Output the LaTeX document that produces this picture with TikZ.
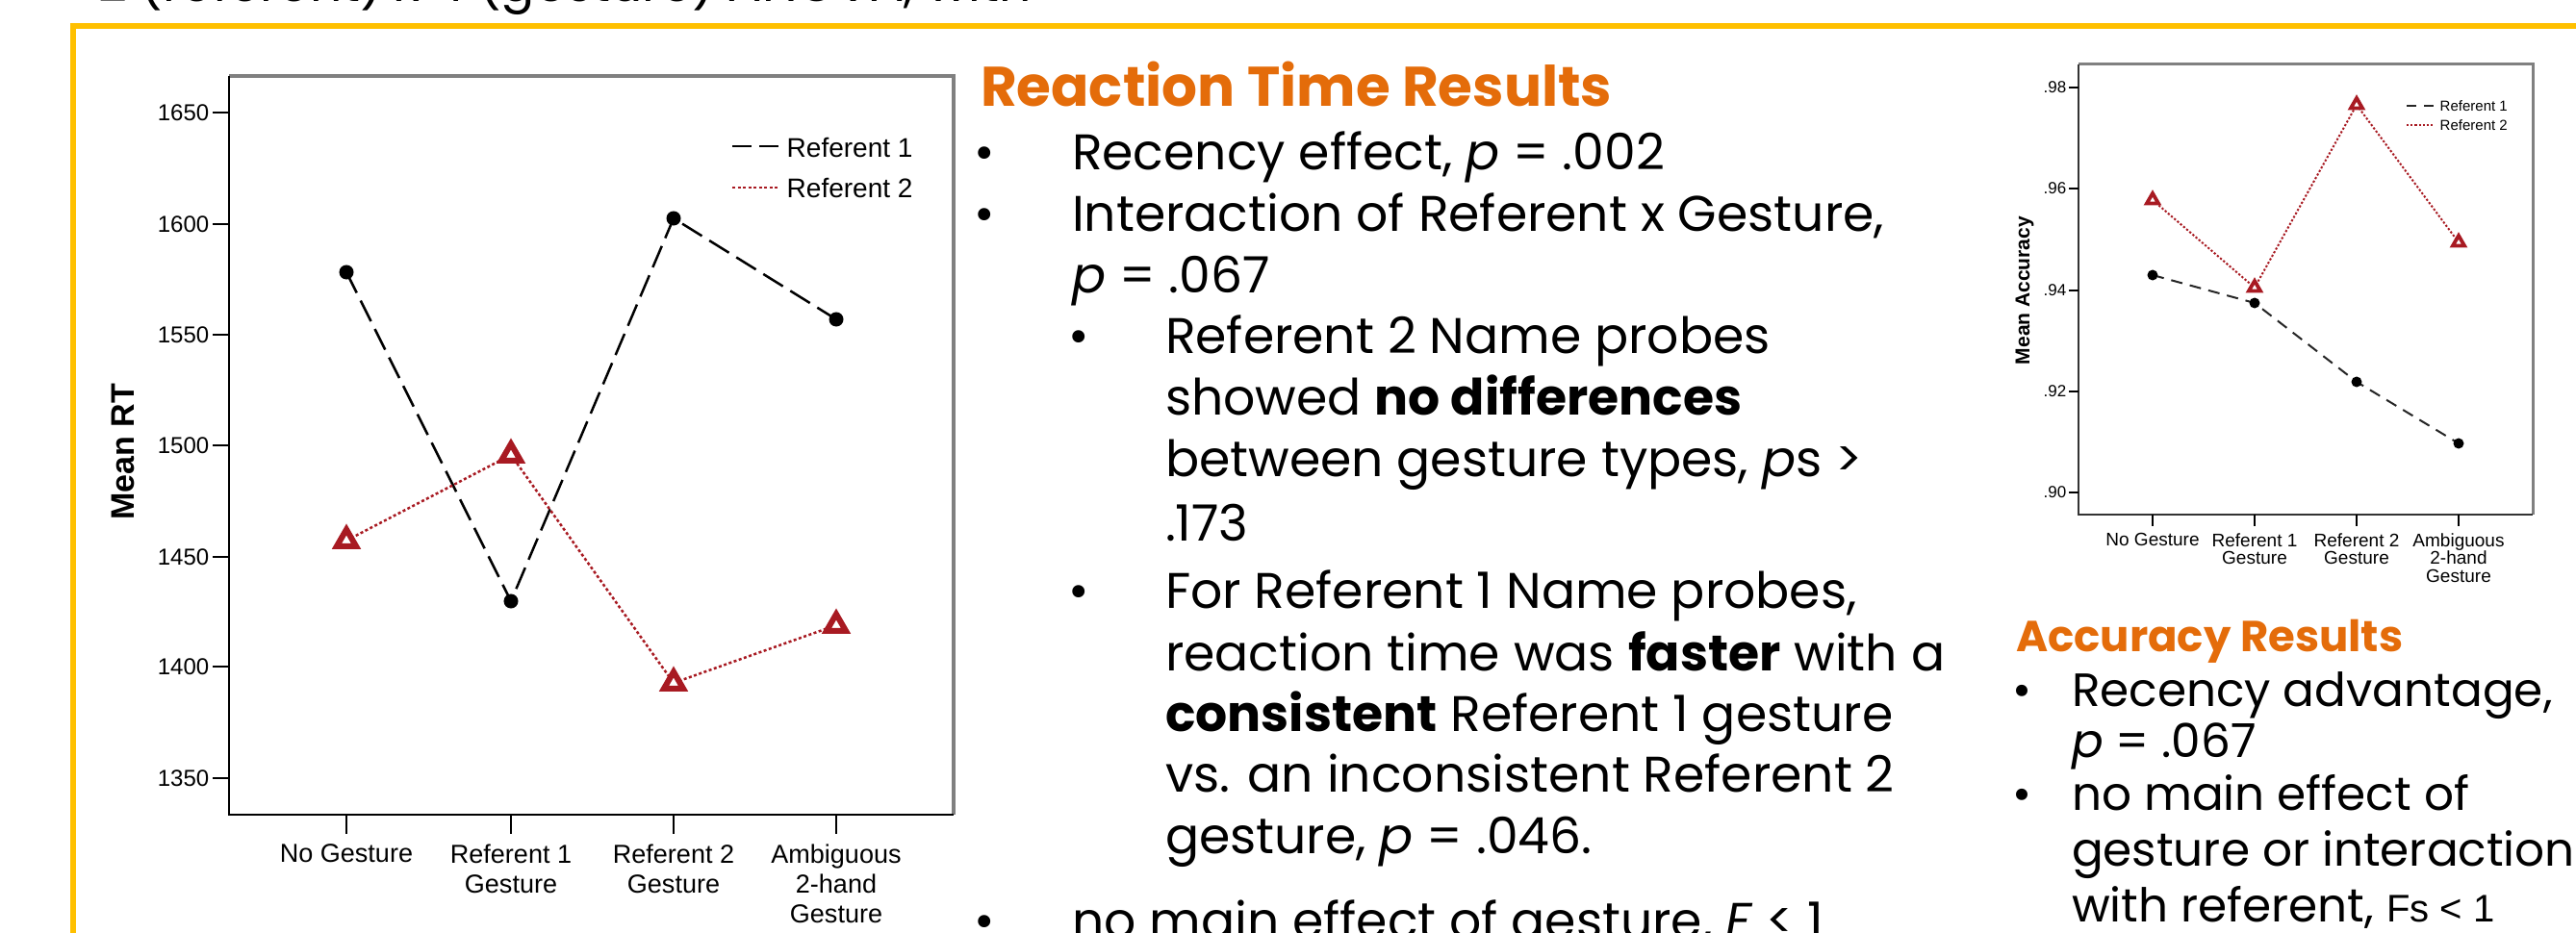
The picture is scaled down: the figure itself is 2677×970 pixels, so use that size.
\documentclass[tikz,border=0pt]{standalone}
\usepackage{fontspec}
\setmainfont{Poppins}
\newfontfamily\chartfont{Liberation Sans}
\usetikzlibrary{shapes.geometric}

\definecolor{frameyellow}{RGB}{255,192,0}
\definecolor{headorange}{RGB}{228,108,10}
\definecolor{serieRed}{RGB}{168,26,34}
\definecolor{axisgray}{RGB}{128,128,128}

% font size given in picture pixels (1px = 0.01cm): size, leading
\newcommand\pxsize[2]{\fontsize{\fpeval{#1*0.28453}pt}{\fpeval{#2*0.28453}pt}\selectfont}

\begin{document}
\begin{tikzpicture}[x=0.01cm,y=-0.01cm,
  txt/.style={anchor=base west, inner sep=0pt, outer sep=0pt},
  bul/.style={anchor=base, inner sep=0pt, outer sep=0pt},
  body/.style={txt, font={\pxsize{52}{60}}},
  accbody/.style={txt, font={\pxsize{48.5}{56}}},
  head/.style={txt, font={\pxsize{58}{66}\bfseries}, text=headorange},
  ylab/.style={anchor=east, inner sep=0pt, font={\chartfont\pxsize{24}{28}}},
  xlab/.style={anchor=north, inner sep=0pt, align=center, font={\chartfont\pxsize{27}{31}}},
  legtxt/.style={anchor=west, inner sep=0pt, font={\chartfont\pxsize{28}{32}}},
  sylab/.style={anchor=east, inner sep=0pt, font={\chartfont\pxsize{17}{20}}},
  sxlab/.style={anchor=north, inner sep=0pt, align=center, font={\chartfont\pxsize{19}{18.5}}},
  slegtxt/.style={anchor=west, inner sep=0pt, font={\chartfont\pxsize{15}{18}}},
  axisline/.style={line width=0.022cm, black},
  grayedge/.style={line width=0.035cm, axisgray},
  ref1/.style={line width=0.025cm, black, dash pattern=on 0.24cm off 0.09cm},
  ref2/.style={line width=0.025cm, serieRed, dash pattern=on 0.03cm off 0.025cm},
  sref1/.style={line width=0.02cm, black!85, dash pattern=on 0.12cm off 0.08cm},
  sref2/.style={line width=0.02cm, serieRed, dash pattern=on 0.022cm off 0.02cm},
  dot/.style={circle, fill=black, inner sep=0pt, minimum size=0.15cm},
  sdot/.style={circle, fill=black, inner sep=0pt, minimum size=0.11cm},
  tri/.style={regular polygon, regular polygon sides=3, draw=serieRed, fill=white,
              line width=0.06cm, inner sep=0pt, minimum size=0.23cm},
  stri/.style={regular polygon, regular polygon sides=3, draw=serieRed, fill=white,
              line width=0.038cm, inner sep=0pt, minimum size=0.14cm},
  tick/.style={line width=0.02cm, black}
]
\useasboundingbox (0,0) rectangle (2677,970);
\clip (0,0) rectangle (2677,970);
\fill[white] (0,0) rectangle (2677,970);

% ---------- heading line at the very top ----------
\node[txt, font={\pxsize{52}{58}}] (anova) at (102,2) {2 (referent) x 4 (gesture) ANOVA, with};

% ---------- yellow frame ----------
\draw[frameyellow, line width=0.055cm] (76,1000) -- (76,27) -- (2700,27);

% ================= Reaction time chart =================
\coordinate (rtTL) at (238,79);
\coordinate (rtTR) at (991,79);
\coordinate (rtBL) at (238,847);
\coordinate (rtBR) at (991,847);
\draw[grayedge] (rtTL) -- (rtTR) -- (rtBR);
\draw[axisline] (rtTL) -- (rtBL) -- (rtBR);

% y axis ticks and labels
\foreach \v/\yy in {1650/117,1600/233,1550/348,1500/463,1450/579,1400/693,1350/809}{
  \coordinate (yt\v) at (238,\yy);
  \draw[tick] (yt\v) -- ++(-17,0);
  \node[ylab] (yl\v) at (218,\yy) {\v};
}
\node[rotate=90, inner sep=0pt, font={\chartfont\bfseries\pxsize{34}{40}}] (rtTitle) at (128,470) {Mean RT};

% x axis ticks and labels
\foreach \i/\xx in {1/360,2/531,3/700,4/869}{
  \coordinate (xt\i) at (\xx,847);
  \draw[tick] (xt\i) -- ++(0,20);
}
\node[xlab] (xl1) at (360,877) {No Gesture};
\node[xlab] (xl2) at (531,877) {Referent 1\\Gesture};
\node[xlab] (xl3) at (700,877) {Referent 2\\Gesture};
\node[xlab] (xl4) at (869,877) {Ambiguous\\2-hand\\Gesture};

% data points
\coordinate (a1) at (360,283);
\coordinate (a2) at (531,625);
\coordinate (a3) at (700,227);
\coordinate (a4) at (869,332);
\coordinate (b1) at (360,562);
\coordinate (b2) at (531,473);
\coordinate (b3) at (700,710);
\coordinate (b4) at (869,650);
\draw[ref1] (a1) -- (a2) -- (a3) -- (a4);
\draw[ref2] (b1) -- (b2) -- (b3) -- (b4);
\foreach \p in {a1,a2,a3,a4}{ \node[dot] (m\p) at (\p) {}; }
\foreach \p in {b1,b2,b3,b4}{ \node[tri] (m\p) at (\p) {}; }

% legend
\coordinate (lg1a) at (761,152);
\coordinate (lg1b) at (809,152);
\coordinate (lg2a) at (761,195);
\coordinate (lg2b) at (809,195);
\draw[line width=0.025cm, black, dash pattern=on 0.2cm off 0.08cm] (lg1a) -- (lg1b);
\draw[ref2] (lg2a) -- (lg2b);
\node[legtxt] (lgt1) at (817,154) {Referent 1};
\node[legtxt] (lgt2) at (817,196) {Referent 2};

% ================= Reaction time text =================
\node[head] (rtHead) at (1019,111) {Reaction Time Results};

\node[bul, font={\pxsize{52}{60}}] (bu1) at (1023,177) {•};
\node[body] (tx1) at (1114,177) {Recency effect, \textit{p} = .002};
\node[bul, font={\pxsize{52}{60}}] (bu2) at (1023,241) {•};
\node[body] (tx2) at (1114,241) {Interaction of Referent x Gesture,};
\node[body] (tx3) at (1114,305) {\textit{p} = .067};

\node[bul, font={\pxsize{52}{60}}] (bu3) at (1121,368) {•};
\node[body] (tx4) at (1211,368) {Referent 2 Name probes};
\node[body] (tx5) at (1211,432) {showed \textbf{no differences}};
\node[body] (tx6) at (1211,495) {between gesture types, \textit{p}s >};
\node[body] (tx7) at (1211,562) {.173};

\node[bul, font={\pxsize{52}{60}}] (bu4) at (1121,633) {•};
\node[body] (tx8) at (1211,633) {For Referent 1 Name probes,};
\node[body] (tx9) at (1211,697) {reaction time was \textbf{faster} with a};
\node[body] (tx10) at (1211,760) {\textbf{consistent} Referent 1 gesture};
\node[body] (tx11) at (1211,823) {vs. an inconsistent Referent 2};
\node[body] (tx12) at (1211,887) {gesture, \textit{p} = .046.};

\node[bul, font={\pxsize{52}{60}}] (bu5) at (1023,975) {•};
\node[body] (tx13) at (1114,975) {no main effect of gesture, \textit{F} < 1};

% ================= Accuracy chart =================
\coordinate (acTL) at (2160,67);
\coordinate (acTR) at (2632,67);
\coordinate (acBL) at (2160,535);
\coordinate (acBR) at (2632,535);
\draw[line width=0.03cm, axisgray] (acTL) -- (acTR) -- (acBR);
\draw[line width=0.02cm, black!80] (acTL) -- (acBL) -- (acBR);

\foreach \v/\yy in {98/91,96/196,94/302,92/407,90/512}{
  \coordinate (syt\v) at (2160,\yy);
  \draw[line width=0.015cm] (syt\v) -- ++(-10,0);
  \node[sylab] (syl\v) at (2148,\yy) {.\v};
}
\node[rotate=90, inner sep=0pt, font={\chartfont\bfseries\pxsize{21}{24}}] (acTitle) at (2104,302) {Mean Accuracy};

\foreach \i/\xx in {1/2237,2/2343,3/2449,4/2555}{
  \coordinate (sxt\i) at (\xx,535);
  \draw[line width=0.015cm] (sxt\i) -- ++(0,12);
}
\node[sxlab] (sxl1) at (2237,554) {No Gesture};
\node[sxlab] (sxl2) at (2343,554) {Referent 1\\Gesture};
\node[sxlab] (sxl3) at (2449,554) {Referent 2\\Gesture};
\node[sxlab] (sxl4) at (2555,554) {Ambiguous\\2-hand\\Gesture};

\coordinate (c1) at (2237,286);
\coordinate (c2) at (2343,315);
\coordinate (c3) at (2449,397);
\coordinate (c4) at (2555,461);
\coordinate (d1) at (2237,208);
\coordinate (d2) at (2343,299);
\coordinate (d3) at (2449,109);
\coordinate (d4) at (2555,252);
\draw[sref1] (c1) -- (c2) -- (c3) -- (c4);
\draw[sref2] (d1) -- (d2) -- (d3) -- (d4);
\foreach \p in {c1,c2,c3,c4}{ \node[sdot] (m\p) at (\p) {}; }
\foreach \p in {d1,d2,d3,d4}{ \node[stri] (m\p) at (\p) {}; }

\coordinate (slg1a) at (2501,110);
\coordinate (slg1b) at (2529,110);
\coordinate (slg2a) at (2501,130);
\coordinate (slg2b) at (2529,130);
\draw[line width=0.018cm, black!85, dash pattern=on 0.1cm off 0.08cm] (slg1a) -- (slg1b);
\draw[sref2] (slg2a) -- (slg2b);
\node[slegtxt] (slgt1) at (2535,110) {Referent 1};
\node[slegtxt] (slgt2) at (2535,130) {Referent 2};

% ================= Accuracy text =================
\node[head, font={\pxsize{45}{52}\bfseries}] (acHead) at (2095,677) {Accuracy Results};
\node[bul, font={\pxsize{48.5}{56}}] (abu1) at (2101,735) {•};
\node[accbody] (ac1) at (2153,735) {Recency advantage,};
\node[accbody] (ac2) at (2153,787) {\textit{p} = .067};
\node[bul, font={\pxsize{48.5}{56}}] (abu2) at (2101,842) {•};
\node[accbody] (ac3) at (2153,842) {no main effect of};
\node[accbody] (ac4) at (2153,900) {gesture or interaction};
\node[accbody] (ac5) at (2153,958) {with referent, {\chartfont\pxsize{40}{48}Fs < 1}};
\end{tikzpicture}
\end{document}
